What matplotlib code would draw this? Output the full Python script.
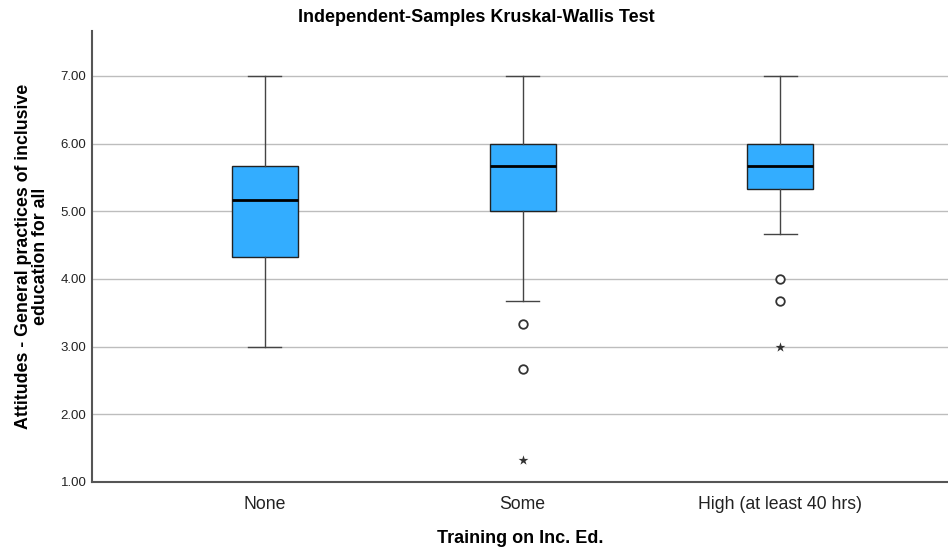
import matplotlib.pyplot as plt

plt.rcParams['font.family'] = ['Liberation Sans', 'DejaVu Sans']

groups = ['None', 'Some', 'High (at least 40 hrs)']
whisker_low = [3.00, 3.67, 4.67]
q1 = [4.33, 5.00, 5.33]
medians = [5.17, 5.67, 5.67]
q3 = [5.67, 6.00, 6.00]
whisker_high = [7.00, 7.00, 7.00]
# mild outliers (circles) and extreme values (stars)
outliers = [[], [3.33, 2.67], [4.00, 3.67]]
extremes = [[], [1.33], [3.00]]

stats = []
for i, g in enumerate(groups):
    stats.append({'label': g, 'whislo': whisker_low[i], 'q1': q1[i], 'med': medians[i],
                  'q3': q3[i], 'whishi': whisker_high[i], 'fliers': []})

fig = plt.figure(figsize=(9.48, 5.51), dpi=100)
ax = fig.add_axes([92 / 948, 1 - 482 / 551, 856 / 948, 451 / 551])

pos = list(range(len(groups)))
ax.bxp(stats, positions=pos, widths=0.256, capwidths=0.128, patch_artist=True, showfliers=False,
       boxprops=dict(facecolor='#33adff', edgecolor='#222222', linewidth=1),
       medianprops=dict(color='black', linewidth=2),
       whiskerprops=dict(color='#444444', linewidth=1),
       capprops=dict(color='#444444', linewidth=1))

for i in pos:
    if outliers[i]:
        ax.scatter([i] * len(outliers[i]), outliers[i], s=38, facecolors='white',
                   edgecolors='#333333', linewidths=1.3, zorder=3)
    if extremes[i]:
        ax.scatter([i] * len(extremes[i]), extremes[i], s=55, marker='*', color='#333333',
                   linewidths=0, zorder=3)

ax.set_xlim(-0.67, 2.65)
ax.set_ylim(1, 7.665)
ax.set_yticks([1, 2, 3, 4, 5, 6, 7])
ax.set_yticklabels(['%.2f' % v for v in [1, 2, 3, 4, 5, 6, 7]], fontsize=9.5)
ax.set_xticks(pos)
ax.set_xticklabels(groups, fontsize=12.7)
ax.tick_params(axis='both', length=0, colors='#222222')
ax.tick_params(axis='y', pad=4)
ax.tick_params(axis='x', pad=10)

for y in range(2, 8):
    ax.axhline(y, color='#bdbdbd', linewidth=1, zorder=0)

for s in ['top', 'right']:
    ax.spines[s].set_visible(False)
for s in ['left', 'bottom']:
    ax.spines[s].set_color('#555555')
    ax.spines[s].set_linewidth(1.5)

ax.set_xlabel('Training on Inc. Ed.', fontsize=13, fontweight='bold', labelpad=12)
ax.set_ylabel('Attitudes - General practices of inclusive\neducation for all', fontsize=12.8,
              fontweight='bold', labelpad=8, linespacing=1.0)
fig.text(476 / 948, 1 - 17 / 551, 'Independent-Samples Kruskal-Wallis Test', ha='center', va='center',
         fontsize=13, fontweight='bold')

fig.savefig('out.png', dpi=100)
